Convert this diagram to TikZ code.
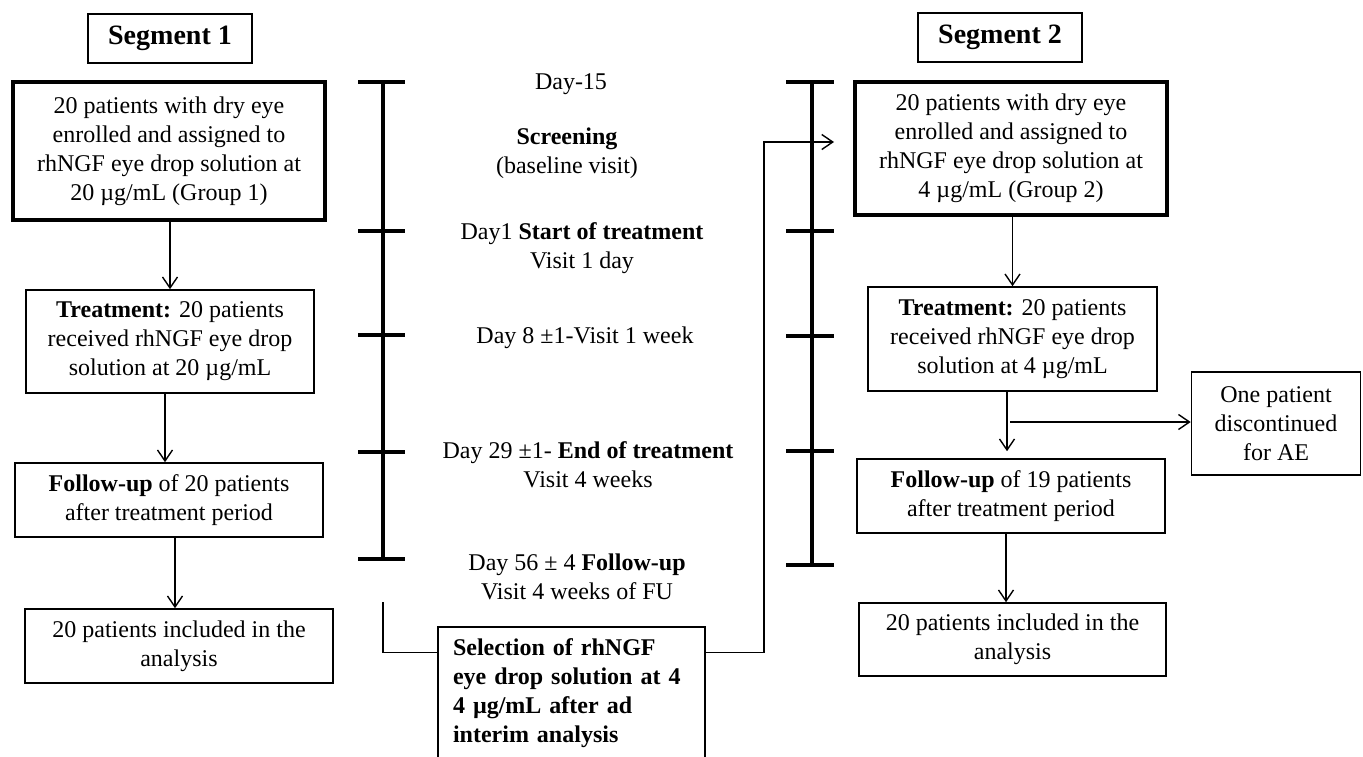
\documentclass[tikz,border=0pt]{standalone}
\usepackage{fontspec}
\setmainfont{Liberation Serif}
\usetikzlibrary{arrows.meta,calc}
\begin{document}
\begin{tikzpicture}[x=0.5pt,y=-0.5pt,
  txt/.style={font=\fontsize{12}{14.5}\selectfont, align=center, inner sep=0pt},
  box/.style={txt, draw, line width=0.8pt, minimum width=#1},
  thickbox/.style={txt, draw, line width=1.7pt},
  segbox/.style={draw, line width=0.8pt, font=\fontsize{14}{16}\selectfont\bfseries, minimum width=82pt, minimum height=24.5pt, inner sep=0pt},
  arr/.style={line width=0.7pt, -{Straight Barb[length=5.5pt,width=7.5pt]}},
  conn/.style={line width=0.7pt},
  tl/.style={line width=2pt}
]
\clip (0,0) rectangle (1363,756);
\fill[white] (0,0) rectangle (1363,756);

% Segment titles
\node[segbox] (seg1) at (170,38.5) {Segment 1};
\node[segbox] (seg2) at (1000,37.5) {Segment 2};

% Segment 1 column
\node[thickbox, minimum width=156pt, minimum height=69pt] (g1) at (169,151)
  {20 patients with dry eye\\enrolled and assigned to\\rhNGF eye drop solution at\\20 µg/mL (Group 1)};
\node[box=144pt, minimum height=51.5pt] (t1) at (170,341.5)
  {\textbf{Treatment:} 20 patients\\received rhNGF eye drop\\solution at 20 µg/mL};
\node[box=154pt, minimum height=37pt] (f1) at (169,500)
  {\textbf{Follow-up} of 20 patients\\after treatment period};
\node[box=154pt, minimum height=37pt] (a1) at (179,646)
  {20 patients included in the\\analysis};

% Segment 2 column
\node[thickbox, minimum width=156pt, minimum height=66.5pt] (g2) at (1011,148.5)
  {20 patients with dry eye\\enrolled and assigned to\\rhNGF eye drop solution at\\4 µg/mL (Group 2)};
\node[box=144.5pt, minimum height=52pt] (t2) at (1012.5,339)
  {\textbf{Treatment:} 20 patients\\received rhNGF eye drop\\solution at 4 µg/mL};
\node[box=154pt, minimum height=37pt] (f2) at (1011,496)
  {\textbf{Follow-up} of 19 patients\\after treatment period};
\node[box=153.5pt, minimum height=36.5pt] (a2) at (1012.5,639.5)
  {20 patients included in the\\analysis};
\node[box=84.5pt, minimum height=51.5pt] (disc) at (1276,423.5)
  {One patient\\discontinued\\for AE};

% Selection box
\node[draw, line width=0.8pt, font=\fontsize{12}{14.5}\selectfont\bfseries, align=left,
  minimum width=133.5pt, minimum height=66.5pt, text width=118.5pt, inner xsep=7.5pt, inner ysep=0pt] (sel) at (571.5,693.5)
  {Selection of rhNGF\\eye drop solution at 4\\4 µg/mL after ad\\interim analysis};

% Timeline labels
\node[txt] (d15) at (571,84) {Day-15};
\node[txt] (scr) at (567,153) {\textbf{Screening}\\(baseline visit)};
\node[txt] (st) at (582,248) {Day1 \textbf{Start of treatment}\\Visit 1 day};
\node[txt] (d8) at (585,338) {Day 8 ±1-Visit 1 week};
\node[txt] (d29) at (588,465) {Day 29 ±1- \textbf{End of treatment}\\Visit 4 weeks};
\node[txt] (d56) at (577,577) {Day 56 ± 4 \textbf{Follow-up}\\Visit 4 weeks of FU};

% Timelines
\draw[tl] (383,82) -- (383,559);
\foreach \y in {82,231,335,452,559} \draw[tl] (358,\y) -- (405,\y);
\draw[tl] (812,82) -- (812,565);
\foreach \y in {82,231,336,451,565} \draw[tl] (786,\y) -- (834,\y);

% Flow connectors segment 1
\draw[arr] (g1.south -| t1.north) -- (t1.north);
\draw[arr] ([xshift=-2.5pt]t1.south) -- ([xshift=-2.5pt]t1.south |- f1.north);
\draw[arr] ([xshift=3pt]f1.south) -- ([xshift=3pt]f1.south |- a1.north);

% Flow connectors segment 2
\draw[arr] (g2.south -| t2.north) -- (t2.north);
\coordinate (br) at (1010,422);
\draw[arr, shorten >=3.5pt] ([xshift=-2.75pt]t2.south) -- ([xshift=-2.75pt]t2.south |- f2.north);
\draw[arr] (br) -- (br -| disc.west);
\draw[arr] ([xshift=-2.5pt]f2.south) -- ([xshift=-2.5pt]f2.south |- a2.north);

% Selection connectors
\coordinate (lc) at (383,602);
\draw[conn] (lc) |- ([yshift=-13pt]sel.north west);
\coordinate (g2in) at (834,142);
\draw[arr] ([yshift=-13pt]sel.north east) -| (764,142) -- (g2in);
\end{tikzpicture}
\end{document}
